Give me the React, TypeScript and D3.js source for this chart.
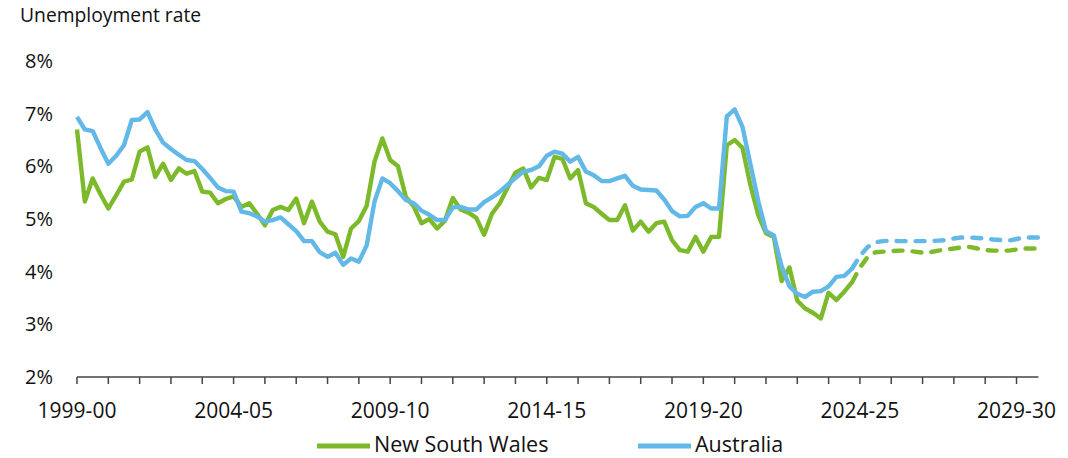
import React from "react";
import * as d3 from "d3";

// Quarterly unemployment rate (%), first quarter = Sep quarter 1999 (start of 1999-00)
const startYear = 1999;
const nswActual = [
  6.70, 5.33, 5.77, 5.47, 5.20, 5.45, 5.71, 5.75, 6.28, 6.36,
  5.80, 6.05, 5.74, 5.96, 5.86, 5.91, 5.52, 5.50, 5.30, 5.38,
  5.43, 5.23, 5.30, 5.10, 4.88, 5.17, 5.23, 5.17, 5.39, 4.92,
  5.33, 4.95, 4.76, 4.71, 4.28, 4.82, 4.96, 5.25, 6.09, 6.53,
  6.12, 6.00, 5.42, 5.24, 4.92, 5.00, 4.82, 4.97, 5.40, 5.18,
  5.12, 5.02, 4.70, 5.10, 5.30, 5.60, 5.88, 5.96, 5.60, 5.78,
  5.74, 6.18, 6.14, 5.77, 5.93, 5.30, 5.23, 5.10, 4.98, 4.98,
  5.26, 4.78, 4.95, 4.76, 4.92, 4.95, 4.60, 4.41, 4.38, 4.66,
  4.38, 4.66, 4.66, 6.40, 6.50, 6.35, 5.65, 5.08, 4.73, 4.66,
  3.82, 4.08, 3.45, 3.30, 3.22, 3.11, 3.60, 3.46, 3.62, 3.80,
];
const ausActual = [
  6.94, 6.70, 6.67, 6.35, 6.05, 6.20, 6.40, 6.88, 6.89, 7.03,
  6.70, 6.45, 6.33, 6.22, 6.12, 6.10, 5.95, 5.78, 5.60, 5.53,
  5.52, 5.14, 5.11, 5.05, 4.95, 4.98, 5.03, 4.90, 4.77, 4.58,
  4.58, 4.37, 4.28, 4.36, 4.13, 4.25, 4.19, 4.50, 5.33, 5.77,
  5.68, 5.53, 5.36, 5.30, 5.16, 5.08, 4.98, 4.98, 5.22, 5.23,
  5.18, 5.18, 5.32, 5.41, 5.52, 5.65, 5.78, 5.90, 5.93, 6.00,
  6.20, 6.28, 6.24, 6.09, 6.18, 5.90, 5.83, 5.72, 5.72, 5.77,
  5.82, 5.63, 5.56, 5.55, 5.54, 5.37, 5.15, 5.05, 5.06, 5.23,
  5.30, 5.20, 5.20, 6.95, 7.08, 6.75, 6.05, 5.35, 4.77, 4.69,
  4.10, 3.72, 3.58, 3.52, 3.62, 3.63, 3.72, 3.90, 3.92, 4.06,
];
// Forecasts start at the last actual quarter (index 99)
const forecastStart = 99;
const nswForecast = [
  3.80, 4.08, 4.28, 4.37, 4.38, 4.39, 4.40, 4.40, 4.38, 4.36,
  4.37, 4.40, 4.42, 4.44, 4.46, 4.47, 4.44, 4.41, 4.40, 4.40,
  4.40, 4.42, 4.44, 4.44, 4.44,
];
const ausForecast = [
  4.06, 4.30, 4.47, 4.56, 4.58, 4.59, 4.58, 4.58, 4.58, 4.58,
  4.58, 4.59, 4.60, 4.63, 4.65, 4.65, 4.64, 4.63, 4.61, 4.60,
  4.59, 4.62, 4.65, 4.65, 4.65,
];
const yTicks = [2, 3, 4, 5, 6, 7, 8];
const tickYears = d3.range(1999, 2030);
const labelYears = [1999, 2004, 2009, 2014, 2019, 2024, 2029];
const seriesNames = ["New South Wales", "Australia"];

const GREEN = "#7dba2b";
const BLUE = "#62b8e7";
const FONT = "'Open Sans', 'Noto Sans', sans-serif";

const fyLabel = (y: number) => `${y}-${String((y + 1) % 100).padStart(2, "0")}`;

export default function App() {
  const width = 1068;
  const height = 458;
  const x = d3.scaleLinear().domain([1999, 2029.75]).range([77, 1040]);
  const y = d3.scaleLinear().domain([2, 8]).range([377, 61]);

  const toPts = (vals: number[], offset: number) =>
    vals.map((v, i) => ({ t: startYear + (i + offset) / 4, v }));
  const line = d3
    .line<{ t: number; v: number }>()
    .x((d) => x(d.t))
    .y((d) => y(d.v))
    .curve(d3.curveLinear);

  const series = [
    { actual: toPts(nswActual, 0), fc: toPts(nswForecast, forecastStart), color: GREEN },
    { actual: toPts(ausActual, 0), fc: toPts(ausForecast, forecastStart), color: BLUE },
  ];

  return (
    <svg width={width} height={height} style={{ display: "block", position: "absolute", left: 0, top: 0 }}>
      <rect width={width} height={height} fill="#fff" />
      <text x={20} y={22} fontFamily={FONT} fontSize={19.3} fill="#111">
        Unemployment rate
      </text>
      {yTicks.map((t) => (
        <text key={t} x={53} y={y(t) + 7} textAnchor="end" fontFamily={FONT} fontSize={20} fill="#111">
          {t}%
        </text>
      ))}
      {series.map((s, i) => (
        <g key={i}>
          <path d={line(s.actual) || ""} fill="none" stroke={s.color} strokeWidth={4.4} strokeLinejoin="round" />
          <path
            d={line(s.fc) || ""}
            fill="none"
            stroke={s.color}
            strokeWidth={4.4}
            strokeLinejoin="round"
            strokeLinecap="round"
            strokeDasharray="9 10"
          />
        </g>
      ))}
      <line x1={x(1999)} x2={x(2029.7)} y1={377} y2={377} stroke="#444" strokeWidth={1.5} />
      {tickYears.map((t) => (
        <line key={t} x1={x(t)} x2={x(t)} y1={377} y2={384} stroke="#444" strokeWidth={1.5} />
      ))}
      {labelYears.map((t) => (
        <text key={t} x={x(t)} y={418} textAnchor="middle" fontFamily={FONT} fontSize={21} fill="#111">
          {fyLabel(t)}
        </text>
      ))}
      {seriesNames.map((name, i) => {
        const lx = i === 0 ? 317 : 638;
        return (
          <g key={name}>
            <line x1={lx} x2={lx + 53} y1={446} y2={446} stroke={i === 0 ? GREEN : BLUE} strokeWidth={5} />
            <text x={lx + 57} y={452} fontFamily={FONT} fontSize={21.5} fill="#111">
              {name}
            </text>
          </g>
        );
      })}
    </svg>
  );
}
